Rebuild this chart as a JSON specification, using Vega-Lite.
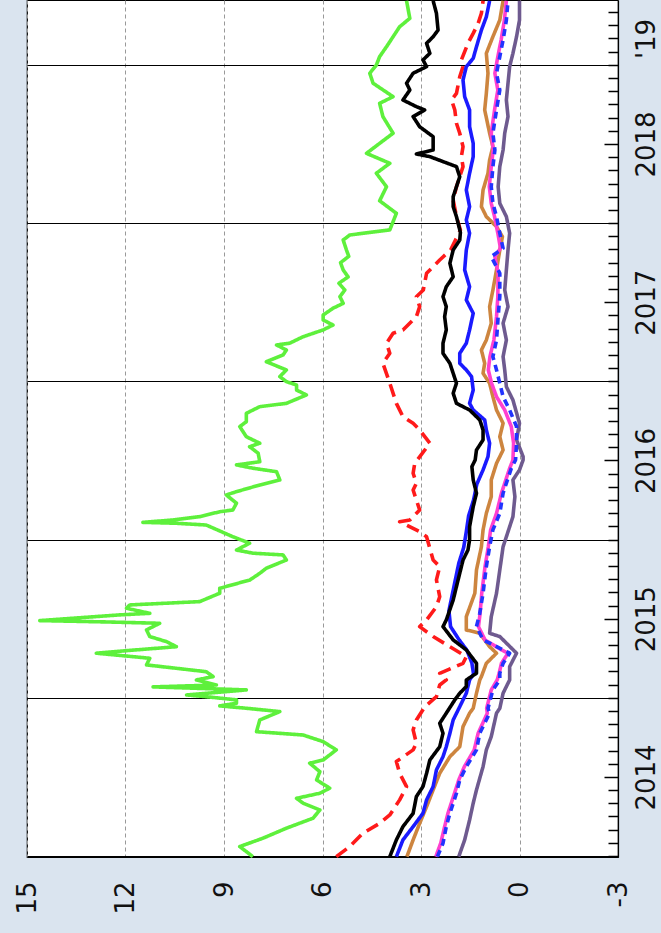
{
"$schema": "https://vega.github.io/schema/vega-lite/v6.json",
"width": 591, "height": 857,
"autosize": {"type": "none"},
"padding": {"left": 27, "top": 0, "right": 43, "bottom": 76},
"background": "#dae4ef",
"config": {"view": {"fill": "white", "stroke": "black", "strokeWidth": 1.2}, "font": "DejaVu Sans"},
"datasets": {"d": [
{"series":"A","time":2013.496,"value":8.12},{"series":"A","time":2013.560,"value":8.52},{"series":"A","time":2013.613,"value":7.81},{"series":"A","time":2013.676,"value":7.10},{"series":"A","time":2013.739,"value":6.29},{"series":"A","time":2013.791,"value":6.08},{"series":"A","time":2013.834,"value":6.59},{"series":"A","time":2013.865,"value":6.79},{"series":"A","time":2013.897,"value":6.08},{"series":"A","time":2013.929,"value":5.78},{"series":"A","time":2013.981,"value":6.18},{"series":"A","time":2014.033,"value":6.08},{"series":"A","time":2014.087,"value":6.39},{"series":"A","time":2014.107,"value":5.98},{"series":"A","time":2014.171,"value":5.58},{"series":"A","time":2014.223,"value":5.98},{"series":"A","time":2014.265,"value":6.59},{"series":"A","time":2014.286,"value":8.01},{"series":"A","time":2014.360,"value":7.91},{"series":"A","time":2014.413,"value":7.30},{"series":"A","time":2014.434,"value":8.32},{"series":"A","time":2014.449,"value":9.13},{"series":"A","time":2014.466,"value":8.62},{"series":"A","time":2014.487,"value":8.62},{"series":"A","time":2014.507,"value":9.54},{"series":"A","time":2014.518,"value":10.14},{"series":"A","time":2014.550,"value":8.32},{"series":"A","time":2014.569,"value":11.16},{"series":"A","time":2014.581,"value":9.23},{"series":"A","time":2014.613,"value":9.84},{"series":"A","time":2014.634,"value":9.33},{"series":"A","time":2014.665,"value":9.54},{"series":"A","time":2014.708,"value":11.36},{"series":"A","time":2014.750,"value":11.26},{"series":"A","time":2014.782,"value":12.89},{"series":"A","time":2014.803,"value":11.67},{"series":"A","time":2014.823,"value":10.45},{"series":"A","time":2014.855,"value":10.75},{"series":"A","time":2014.887,"value":11.26},{"series":"A","time":2014.929,"value":11.36},{"series":"A","time":2014.971,"value":10.96},{"series":"A","time":2014.980,"value":12.69},{"series":"A","time":2014.988,"value":14.61},{"series":"A","time":2015.024,"value":12.18},{"series":"A","time":2015.034,"value":11.26},{"series":"A","time":2015.066,"value":11.97},{"series":"A","time":2015.087,"value":11.87},{"series":"A","time":2015.108,"value":9.74},{"series":"A","time":2015.161,"value":9.13},{"series":"A","time":2015.192,"value":9.13},{"series":"A","time":2015.245,"value":8.21},{"series":"A","time":2015.287,"value":7.91},{"series":"A","time":2015.319,"value":7.71},{"series":"A","time":2015.371,"value":7.10},{"series":"A","time":2015.403,"value":7.20},{"series":"A","time":2015.414,"value":8.12},{"series":"A","time":2015.434,"value":8.62},{"series":"A","time":2015.477,"value":8.22},{"series":"A","time":2015.518,"value":8.73},{"series":"A","time":2015.592,"value":9.54},{"series":"A","time":2015.603,"value":10.45},{"series":"A","time":2015.609,"value":11.47},{"series":"A","time":2015.624,"value":10.55},{"series":"A","time":2015.645,"value":9.74},{"series":"A","time":2015.676,"value":9.13},{"series":"A","time":2015.687,"value":8.73},{"series":"A","time":2015.730,"value":8.62},{"series":"A","time":2015.782,"value":8.93},{"series":"A","time":2015.803,"value":8.62},{"series":"A","time":2015.845,"value":7.91},{"series":"A","time":2015.877,"value":7.30},{"series":"A","time":2015.929,"value":7.40},{"series":"A","time":2015.951,"value":8.12},{"series":"A","time":2015.972,"value":8.62},{"series":"A","time":2015.992,"value":7.91},{"series":"A","time":2016.046,"value":7.96},{"series":"A","time":2016.087,"value":8.22},{"series":"A","time":2016.109,"value":7.91},{"series":"A","time":2016.150,"value":8.32},{"series":"A","time":2016.214,"value":8.52},{"series":"A","time":2016.245,"value":8.32},{"series":"A","time":2016.298,"value":8.32},{"series":"A","time":2016.340,"value":7.91},{"series":"A","time":2016.361,"value":7.10},{"series":"A","time":2016.414,"value":6.49},{"series":"A","time":2016.445,"value":6.79},{"series":"A","time":2016.477,"value":6.79},{"series":"A","time":2016.498,"value":7.10},{"series":"A","time":2016.530,"value":7.30},{"series":"A","time":2016.572,"value":7.10},{"series":"A","time":2016.624,"value":7.71},{"series":"A","time":2016.667,"value":7.20},{"series":"A","time":2016.698,"value":7.10},{"series":"A","time":2016.730,"value":7.40},{"series":"A","time":2016.741,"value":7.00},{"series":"A","time":2016.782,"value":6.59},{"series":"A","time":2016.825,"value":5.98},{"series":"A","time":2016.856,"value":5.68},{"series":"A","time":2016.888,"value":5.98},{"series":"A","time":2016.919,"value":5.98},{"series":"A","time":2016.962,"value":5.68},{"series":"A","time":2016.993,"value":5.37},{"series":"A","time":2017.035,"value":5.47},{"series":"A","time":2017.077,"value":5.32},{"series":"A","time":2017.120,"value":5.50},{"series":"A","time":2017.160,"value":5.22},{"series":"A","time":2017.204,"value":5.37},{"series":"A","time":2017.250,"value":5.45},{"series":"A","time":2017.290,"value":5.20},{"series":"A","time":2017.330,"value":5.27},{"series":"A","time":2017.393,"value":5.37},{"series":"A","time":2017.425,"value":5.17},{"series":"A","time":2017.457,"value":3.95},{"series":"A","time":2017.562,"value":3.75},{"series":"A","time":2017.641,"value":4.26},{"series":"A","time":2017.730,"value":4.05},{"series":"A","time":2017.815,"value":4.36},{"series":"A","time":2017.878,"value":3.95},{"series":"A","time":2017.941,"value":4.66},{"series":"A","time":2018.004,"value":4.26},{"series":"A","time":2018.068,"value":3.85},{"series":"A","time":2018.173,"value":4.16},{"series":"A","time":2018.257,"value":4.26},{"series":"A","time":2018.299,"value":3.85},{"series":"A","time":2018.384,"value":4.46},{"series":"A","time":2018.447,"value":4.56},{"series":"A","time":2018.499,"value":4.36},{"series":"A","time":2018.552,"value":4.26},{"series":"A","time":2018.615,"value":4.05},{"series":"A","time":2018.678,"value":3.85},{"series":"A","time":2018.741,"value":3.65},{"series":"A","time":2018.794,"value":3.34},{"series":"A","time":2018.905,"value":3.44},

{"series":"B","time":2013.496,"value":5.58},{"series":"B","time":2013.560,"value":5.17},{"series":"B","time":2013.644,"value":4.77},{"series":"B","time":2013.707,"value":4.26},{"series":"B","time":2013.760,"value":3.95},{"series":"B","time":2013.855,"value":3.65},{"series":"B","time":2013.939,"value":3.44},{"series":"B","time":2014.023,"value":3.65},{"series":"B","time":2014.097,"value":3.75},{"series":"B","time":2014.171,"value":3.24},{"series":"B","time":2014.213,"value":3.14},{"series":"B","time":2014.297,"value":3.24},{"series":"B","time":2014.360,"value":3.14},{"series":"B","time":2014.444,"value":2.88},{"series":"B","time":2014.507,"value":2.53},{"series":"B","time":2014.581,"value":2.43},{"series":"B","time":2014.613,"value":2.23},{"series":"B","time":2014.655,"value":2.43},{"series":"B","time":2014.718,"value":1.72},{"series":"B","time":2014.760,"value":1.62},{"series":"B","time":2014.823,"value":2.12},{"series":"B","time":2014.887,"value":2.63},{"series":"B","time":2014.950,"value":3.04},{"series":"B","time":2014.992,"value":2.83},{"series":"B","time":2015.076,"value":2.53},{"series":"B","time":2015.139,"value":2.43},{"series":"B","time":2015.245,"value":2.53},{"series":"B","time":2015.329,"value":2.43},{"series":"B","time":2015.371,"value":2.63},{"series":"B","time":2015.518,"value":2.83},{"series":"B","time":2015.550,"value":3.04},{"series":"B","time":2015.613,"value":3.65},{"series":"B","time":2015.624,"value":3.34},{"series":"B","time":2015.687,"value":3.04},{"series":"B","time":2015.750,"value":3.14},{"series":"B","time":2015.813,"value":3.24},{"series":"B","time":2015.856,"value":3.14},{"series":"B","time":2015.919,"value":3.24},{"series":"B","time":2015.982,"value":3.19},{"series":"B","time":2016.109,"value":2.73},{"series":"B","time":2016.193,"value":3.04},{"series":"B","time":2016.235,"value":3.24},{"series":"B","time":2016.277,"value":3.55},{"series":"B","time":2016.361,"value":3.75},{"series":"B","time":2016.488,"value":3.95},{"series":"B","time":2016.614,"value":4.16},{"series":"B","time":2016.677,"value":3.95},{"series":"B","time":2016.741,"value":4.05},{"series":"B","time":2016.804,"value":3.85},{"series":"B","time":2016.825,"value":3.55},{"series":"B","time":2016.909,"value":3.14},{"series":"B","time":2016.972,"value":3.04},{"series":"B","time":2017.035,"value":3.14},{"series":"B","time":2017.077,"value":2.93},{"series":"B","time":2017.183,"value":2.83},{"series":"B","time":2017.267,"value":2.43},{"series":"B","time":2017.330,"value":2.10},{"series":"B","time":2017.393,"value":1.95},{"series":"B","time":2017.457,"value":1.80},{"series":"B","time":2017.541,"value":1.92},{"series":"B","time":2017.646,"value":2.02},{"series":"B","time":2017.730,"value":1.92},{"series":"B","time":2017.857,"value":1.72},{"series":"B","time":2017.920,"value":1.77},{"series":"B","time":2017.983,"value":1.72},{"series":"B","time":2018.068,"value":1.82},{"series":"B","time":2018.131,"value":1.92},{"series":"B","time":2018.215,"value":1.97},{"series":"B","time":2018.278,"value":2.07},{"series":"B","time":2018.320,"value":1.92},{"series":"B","time":2018.425,"value":1.82},{"series":"B","time":2018.489,"value":1.72},{"series":"B","time":2018.531,"value":1.77},{"series":"B","time":2018.636,"value":1.57},{"series":"B","time":2018.699,"value":1.41},{"series":"B","time":2018.762,"value":1.26},{"series":"B","time":2018.826,"value":1.16},{"series":"B","time":2018.905,"value":1.11},

{"series":"H","time":2013.496,"value":1.85},{"series":"H","time":2013.602,"value":1.67},{"series":"H","time":2013.728,"value":1.52},{"series":"H","time":2013.834,"value":1.41},{"series":"H","time":2013.918,"value":1.31},{"series":"H","time":2014.065,"value":1.11},{"series":"H","time":2014.171,"value":1.01},{"series":"H","time":2014.255,"value":0.86},{"series":"H","time":2014.403,"value":0.70},{"series":"H","time":2014.434,"value":0.60},{"series":"H","time":2014.529,"value":0.50},{"series":"H","time":2014.571,"value":0.40},{"series":"H","time":2014.613,"value":0.30},{"series":"H","time":2014.697,"value":0.30},{"series":"H","time":2014.782,"value":0.09},{"series":"H","time":2014.887,"value":0.60},{"series":"H","time":2014.908,"value":0.91},{"series":"H","time":2015.013,"value":0.86},{"series":"H","time":2015.161,"value":0.70},{"series":"H","time":2015.308,"value":0.60},{"series":"H","time":2015.455,"value":0.50},{"series":"H","time":2015.518,"value":0.40},{"series":"H","time":2015.645,"value":0.20},{"series":"H","time":2015.771,"value":0.14},{"series":"H","time":2015.877,"value":0.20},{"series":"H","time":2015.940,"value":0.00},{"series":"H","time":2016.003,"value":-0.11},{"series":"H","time":2016.024,"value":-0.11},{"series":"H","time":2016.130,"value":0.09},{"series":"H","time":2016.235,"value":0.00},{"series":"H","time":2016.382,"value":0.20},{"series":"H","time":2016.466,"value":0.40},{"series":"H","time":2016.572,"value":0.45},{"series":"H","time":2016.656,"value":0.50},{"series":"H","time":2016.761,"value":0.40},{"series":"H","time":2016.867,"value":0.50},{"series":"H","time":2016.972,"value":0.35},{"series":"H","time":2017.077,"value":0.45},{"series":"H","time":2017.204,"value":0.40},{"series":"H","time":2017.330,"value":0.35},{"series":"H","time":2017.436,"value":0.30},{"series":"H","time":2017.541,"value":0.40},{"series":"H","time":2017.625,"value":0.60},{"series":"H","time":2017.730,"value":0.65},{"series":"H","time":2017.857,"value":0.60},{"series":"H","time":2017.962,"value":0.50},{"series":"H","time":2018.068,"value":0.45},{"series":"H","time":2018.173,"value":0.35},{"series":"H","time":2018.278,"value":0.40},{"series":"H","time":2018.384,"value":0.35},{"series":"H","time":2018.489,"value":0.30},{"series":"H","time":2018.573,"value":0.20},{"series":"H","time":2018.678,"value":0.09},{"series":"H","time":2018.783,"value":0.00},{"series":"H","time":2018.905,"value":0.00},

{"series":"E","time":2013.496,"value":3.43},{"series":"E","time":2013.602,"value":3.24},{"series":"E","time":2013.707,"value":3.04},{"series":"E","time":2013.812,"value":2.83},{"series":"E","time":2013.918,"value":2.63},{"series":"E","time":2014.023,"value":2.43},{"series":"E","time":2014.128,"value":2.12},{"series":"E","time":2014.191,"value":1.82},{"series":"E","time":2014.318,"value":1.72},{"series":"E","time":2014.403,"value":1.52},{"series":"E","time":2014.434,"value":1.41},{"series":"E","time":2014.529,"value":1.31},{"series":"E","time":2014.613,"value":1.21},{"series":"E","time":2014.634,"value":1.16},{"series":"E","time":2014.718,"value":1.01},{"series":"E","time":2014.782,"value":0.70},{"series":"E","time":2014.823,"value":0.91},{"series":"E","time":2014.908,"value":1.21},{"series":"E","time":2014.929,"value":1.62},{"series":"E","time":2015.013,"value":1.62},{"series":"E","time":2015.161,"value":1.36},{"series":"E","time":2015.308,"value":1.31},{"series":"E","time":2015.455,"value":1.16},{"series":"E","time":2015.561,"value":1.11},{"series":"E","time":2015.666,"value":1.01},{"series":"E","time":2015.771,"value":0.86},{"series":"E","time":2015.877,"value":0.86},{"series":"E","time":2015.982,"value":0.70},{"series":"E","time":2016.066,"value":0.50},{"series":"E","time":2016.150,"value":0.60},{"series":"E","time":2016.235,"value":0.50},{"series":"E","time":2016.319,"value":0.70},{"series":"E","time":2016.403,"value":0.81},{"series":"E","time":2016.488,"value":0.91},{"series":"E","time":2016.551,"value":1.11},{"series":"E","time":2016.614,"value":1.06},{"series":"E","time":2016.698,"value":1.16},{"series":"E","time":2016.761,"value":1.01},{"series":"E","time":2016.867,"value":0.86},{"series":"E","time":2016.972,"value":0.91},{"series":"E","time":2017.077,"value":0.81},{"series":"E","time":2017.204,"value":0.70},{"series":"E","time":2017.330,"value":0.60},{"series":"E","time":2017.414,"value":0.52},{"series":"E","time":2017.478,"value":0.70},{"series":"E","time":2017.541,"value":1.01},{"series":"E","time":2017.604,"value":1.16},{"series":"E","time":2017.709,"value":1.11},{"series":"E","time":2017.815,"value":0.96},{"series":"E","time":2017.899,"value":0.91},{"series":"E","time":2017.983,"value":0.81},{"series":"E","time":2018.068,"value":0.91},{"series":"E","time":2018.215,"value":1.06},{"series":"E","time":2018.320,"value":1.01},{"series":"E","time":2018.447,"value":0.96},{"series":"E","time":2018.573,"value":1.01},{"series":"E","time":2018.678,"value":0.81},{"series":"E","time":2018.783,"value":0.60},{"series":"E","time":2018.905,"value":0.50},

{"series":"F","time":2013.496,"value":2.55},{"series":"F","time":2013.581,"value":2.40},{"series":"F","time":2013.686,"value":2.28},{"series":"F","time":2013.770,"value":2.18},{"series":"F","time":2013.897,"value":1.98},{"series":"F","time":2013.981,"value":1.85},{"series":"F","time":2014.065,"value":1.68},{"series":"F","time":2014.171,"value":1.38},{"series":"F","time":2014.276,"value":1.26},{"series":"F","time":2014.403,"value":0.98},{"series":"F","time":2014.434,"value":1.00},{"series":"F","time":2014.550,"value":0.86},{"series":"F","time":2014.613,"value":0.68},{"series":"F","time":2014.655,"value":0.62},{"series":"F","time":2014.718,"value":0.55},{"series":"F","time":2014.782,"value":0.35},{"series":"F","time":2014.803,"value":0.55},{"series":"F","time":2014.866,"value":1.05},{"series":"F","time":2014.950,"value":1.25},{"series":"F","time":2015.034,"value":1.20},{"series":"F","time":2015.161,"value":1.15},{"series":"F","time":2015.329,"value":1.05},{"series":"F","time":2015.455,"value":0.95},{"series":"F","time":2015.561,"value":0.88},{"series":"F","time":2015.666,"value":0.70},{"series":"F","time":2015.793,"value":0.55},{"series":"F","time":2015.888,"value":0.40},{"series":"F","time":2015.950,"value":0.30},{"series":"F","time":2016.003,"value":0.20},{"series":"F","time":2016.109,"value":0.18},{"series":"F","time":2016.214,"value":0.25},{"series":"F","time":2016.319,"value":0.45},{"series":"F","time":2016.403,"value":0.70},{"series":"F","time":2016.488,"value":0.85},{"series":"F","time":2016.572,"value":0.95},{"series":"F","time":2016.656,"value":0.90},{"series":"F","time":2016.761,"value":0.78},{"series":"F","time":2016.909,"value":0.70},{"series":"F","time":2017.035,"value":0.66},{"series":"F","time":2017.183,"value":0.65},{"series":"F","time":2017.288,"value":0.75},{"series":"F","time":2017.341,"value":0.58},{"series":"F","time":2017.436,"value":0.66},{"series":"F","time":2017.541,"value":0.76},{"series":"F","time":2017.625,"value":0.86},{"series":"F","time":2017.730,"value":0.92},{"series":"F","time":2017.857,"value":0.86},{"series":"F","time":2017.962,"value":0.80},{"series":"F","time":2018.068,"value":0.86},{"series":"F","time":2018.215,"value":0.76},{"series":"F","time":2018.341,"value":0.66},{"series":"F","time":2018.447,"value":0.75},{"series":"F","time":2018.552,"value":0.66},{"series":"F","time":2018.657,"value":0.56},{"series":"F","time":2018.783,"value":0.46},{"series":"F","time":2018.905,"value":0.40},

{"series":"G","time":2013.496,"value":2.50},{"series":"G","time":2013.581,"value":2.33},{"series":"G","time":2013.686,"value":2.23},{"series":"G","time":2013.770,"value":2.12},{"series":"G","time":2013.897,"value":1.92},{"series":"G","time":2013.981,"value":1.82},{"series":"G","time":2014.065,"value":1.62},{"series":"G","time":2014.171,"value":1.31},{"series":"G","time":2014.276,"value":1.21},{"series":"G","time":2014.403,"value":0.91},{"series":"G","time":2014.434,"value":0.96},{"series":"G","time":2014.550,"value":0.81},{"series":"G","time":2014.613,"value":0.60},{"series":"G","time":2014.655,"value":0.60},{"series":"G","time":2014.718,"value":0.50},{"series":"G","time":2014.782,"value":0.30},{"series":"G","time":2014.803,"value":0.50},{"series":"G","time":2014.866,"value":1.11},{"series":"G","time":2014.950,"value":1.31},{"series":"G","time":2015.034,"value":1.21},{"series":"G","time":2015.161,"value":1.11},{"series":"G","time":2015.329,"value":1.01},{"series":"G","time":2015.455,"value":0.91},{"series":"G","time":2015.561,"value":0.81},{"series":"G","time":2015.666,"value":0.60},{"series":"G","time":2015.793,"value":0.50},{"series":"G","time":2015.888,"value":0.35},{"series":"G","time":2015.950,"value":0.25},{"series":"G","time":2016.003,"value":0.12},{"series":"G","time":2016.109,"value":0.09},{"series":"G","time":2016.214,"value":0.09},{"series":"G","time":2016.319,"value":0.30},{"series":"G","time":2016.403,"value":0.50},{"series":"G","time":2016.488,"value":0.60},{"series":"G","time":2016.572,"value":0.70},{"series":"G","time":2016.656,"value":0.81},{"series":"G","time":2016.761,"value":0.70},{"series":"G","time":2016.909,"value":0.65},{"series":"G","time":2017.035,"value":0.60},{"series":"G","time":2017.183,"value":0.60},{"series":"G","time":2017.288,"value":0.86},{"series":"G","time":2017.341,"value":0.50},{"series":"G","time":2017.436,"value":0.60},{"series":"G","time":2017.541,"value":0.70},{"series":"G","time":2017.625,"value":0.81},{"series":"G","time":2017.730,"value":0.86},{"series":"G","time":2017.857,"value":0.81},{"series":"G","time":2017.962,"value":0.75},{"series":"G","time":2018.068,"value":0.81},{"series":"G","time":2018.215,"value":0.70},{"series":"G","time":2018.341,"value":0.60},{"series":"G","time":2018.447,"value":0.70},{"series":"G","time":2018.552,"value":0.60},{"series":"G","time":2018.657,"value":0.50},{"series":"G","time":2018.783,"value":0.40},{"series":"G","time":2018.905,"value":0.35},

{"series":"D","time":2013.496,"value":3.75},{"series":"D","time":2013.602,"value":3.55},{"series":"D","time":2013.686,"value":3.24},{"series":"D","time":2013.770,"value":2.94},{"series":"D","time":2013.855,"value":2.83},{"series":"D","time":2013.939,"value":2.63},{"series":"D","time":2014.044,"value":2.53},{"series":"D","time":2014.128,"value":2.33},{"series":"D","time":2014.191,"value":2.23},{"series":"D","time":2014.276,"value":2.12},{"series":"D","time":2014.360,"value":2.02},{"series":"D","time":2014.444,"value":1.82},{"series":"D","time":2014.529,"value":1.62},{"series":"D","time":2014.613,"value":1.52},{"series":"D","time":2014.650,"value":1.40},{"series":"D","time":2014.720,"value":1.45},{"series":"D","time":2014.800,"value":1.60},{"series":"D","time":2014.870,"value":1.85},{"series":"D","time":2014.950,"value":2.10},{"series":"D","time":2015.050,"value":2.15},{"series":"D","time":2015.150,"value":2.05},{"series":"D","time":2015.250,"value":1.95},{"series":"D","time":2015.350,"value":1.85},{"series":"D","time":2015.450,"value":1.70},{"series":"D","time":2015.550,"value":1.62},{"series":"D","time":2015.650,"value":1.55},{"series":"D","time":2015.750,"value":1.40},{"series":"D","time":2015.850,"value":1.30},{"series":"D","time":2015.940,"value":1.11},{"series":"D","time":2016.024,"value":0.96},{"series":"D","time":2016.109,"value":0.91},{"series":"D","time":2016.193,"value":1.01},{"series":"D","time":2016.256,"value":1.06},{"series":"D","time":2016.319,"value":1.41},{"series":"D","time":2016.361,"value":1.52},{"series":"D","time":2016.445,"value":1.41},{"series":"D","time":2016.530,"value":1.46},{"series":"D","time":2016.572,"value":1.62},{"series":"D","time":2016.614,"value":1.82},{"series":"D","time":2016.677,"value":1.82},{"series":"D","time":2016.741,"value":1.62},{"series":"D","time":2016.825,"value":1.52},{"series":"D","time":2016.930,"value":1.41},{"series":"D","time":2017.014,"value":1.62},{"series":"D","time":2017.098,"value":1.52},{"series":"D","time":2017.204,"value":1.67},{"series":"D","time":2017.330,"value":1.62},{"series":"D","time":2017.436,"value":1.52},{"series":"D","time":2017.520,"value":1.62},{"series":"D","time":2017.604,"value":1.52},{"series":"D","time":2017.709,"value":1.62},{"series":"D","time":2017.815,"value":1.52},{"series":"D","time":2017.920,"value":1.41},{"series":"D","time":2018.004,"value":1.41},{"series":"D","time":2018.109,"value":1.52},{"series":"D","time":2018.215,"value":1.52},{"series":"D","time":2018.299,"value":1.67},{"series":"D","time":2018.404,"value":1.72},{"series":"D","time":2018.489,"value":1.62},{"series":"D","time":2018.541,"value":1.41},{"series":"D","time":2018.615,"value":1.31},{"series":"D","time":2018.720,"value":1.16},{"series":"D","time":2018.804,"value":1.01},{"series":"D","time":2018.905,"value":0.91},

{"series":"C","time":2013.496,"value":3.95},{"series":"C","time":2013.602,"value":3.75},{"series":"C","time":2013.686,"value":3.55},{"series":"C","time":2013.770,"value":3.24},{"series":"C","time":2013.876,"value":3.14},{"series":"C","time":2013.939,"value":2.94},{"series":"C","time":2014.023,"value":2.83},{"series":"C","time":2014.107,"value":2.73},{"series":"C","time":2014.191,"value":2.43},{"series":"C","time":2014.276,"value":2.33},{"series":"C","time":2014.339,"value":2.43},{"series":"C","time":2014.403,"value":2.23},{"series":"C","time":2014.487,"value":1.97},{"series":"C","time":2014.529,"value":1.82},{"series":"C","time":2014.571,"value":1.62},{"series":"C","time":2014.613,"value":1.62},{"series":"C","time":2014.655,"value":1.31},{"series":"C","time":2014.718,"value":1.31},{"series":"C","time":2014.803,"value":1.62},{"series":"C","time":2014.866,"value":2.02},{"series":"C","time":2014.950,"value":2.33},{"series":"C","time":2014.992,"value":2.23},{"series":"C","time":2015.118,"value":2.02},{"series":"C","time":2015.203,"value":1.92},{"series":"C","time":2015.287,"value":1.82},{"series":"C","time":2015.371,"value":1.72},{"series":"C","time":2015.434,"value":1.57},{"series":"C","time":2015.498,"value":1.52},{"series":"C","time":2015.582,"value":1.52},{"series":"C","time":2015.708,"value":1.41},{"series":"C","time":2015.793,"value":1.31},{"series":"C","time":2015.877,"value":1.41},{"series":"C","time":2015.961,"value":1.45},{"series":"C","time":2016.003,"value":1.35},{"series":"C","time":2016.066,"value":1.31},{"series":"C","time":2016.130,"value":1.11},{"series":"C","time":2016.193,"value":1.11},{"series":"C","time":2016.256,"value":1.21},{"series":"C","time":2016.319,"value":1.52},{"series":"C","time":2016.361,"value":1.92},{"series":"C","time":2016.425,"value":2.02},{"series":"C","time":2016.488,"value":1.92},{"series":"C","time":2016.551,"value":2.02},{"series":"C","time":2016.614,"value":2.12},{"series":"C","time":2016.677,"value":2.33},{"series":"C","time":2016.741,"value":2.33},{"series":"C","time":2016.825,"value":2.23},{"series":"C","time":2016.909,"value":2.28},{"series":"C","time":2016.972,"value":2.23},{"series":"C","time":2017.035,"value":2.33},{"series":"C","time":2017.098,"value":2.23},{"series":"C","time":2017.161,"value":2.02},{"series":"C","time":2017.246,"value":2.12},{"series":"C","time":2017.330,"value":2.02},{"series":"C","time":2017.393,"value":1.82},{"series":"C","time":2017.441,"value":1.80},{"series":"C","time":2017.541,"value":1.92},{"series":"C","time":2017.604,"value":2.02},{"series":"C","time":2017.667,"value":2.02},{"series":"C","time":2017.730,"value":1.92},{"series":"C","time":2017.793,"value":1.82},{"series":"C","time":2017.857,"value":1.92},{"series":"C","time":2017.920,"value":2.73},{"series":"C","time":2017.937,"value":3.14},{"series":"C","time":2017.962,"value":2.63},{"series":"C","time":2018.046,"value":2.63},{"series":"C","time":2018.109,"value":3.04},{"series":"C","time":2018.173,"value":3.24},{"series":"C","time":2018.215,"value":2.89},{"series":"C","time":2018.236,"value":3.14},{"series":"C","time":2018.278,"value":3.55},{"series":"C","time":2018.341,"value":3.34},{"series":"C","time":2018.384,"value":3.44},{"series":"C","time":2018.447,"value":3.24},{"series":"C","time":2018.489,"value":2.83},{"series":"C","time":2018.531,"value":2.94},{"series":"C","time":2018.573,"value":2.73},{"series":"C","time":2018.636,"value":2.83},{"series":"C","time":2018.678,"value":2.63},{"series":"C","time":2018.720,"value":2.48},{"series":"C","time":2018.826,"value":2.53},{"series":"C","time":2018.905,"value":2.63}
]},
"data": {"name": "d"},
"mark": {"type": "line", "strokeWidth": 3.6, "strokeJoin": "round"},
"encoding": {
  "x": {"field": "value", "type": "quantitative",
    "scale": {"domain": [-3, 15], "reverse": true, "nice": false, "zero": false},
    "axis": {"orient": "bottom", "values": [-3, 0, 3, 6, 9, 12, 15], "title": null,
      "labelExpr": "toString(datum.value)",
      "labelAngle": 270, "labelAlign": "right", "labelBaseline": "middle", "labelPadding": 24,
      "labelFontSize": 26, "labelColor": "#111", "labelFont": "DejaVu Sans", "labelFlush": false, "labelOverlap": false,
      "ticks": false, "domainColor": "black", "domainWidth": 1.2,
      "grid": true, "gridColor": "#999", "gridDash": [4, 3], "gridWidth": 1}},
  "y": {"field": "time", "type": "quantitative",
    "scale": {"domain": [2013.494, 2018.91], "nice": false, "zero": false},
    "axis": {"orient": "right", "title": null,
      "values": [2013.5,2013.5833,2013.6667,2013.75,2013.8333,2013.9167,
        2014,2014.0833,2014.1667,2014.25,2014.3333,2014.4167,2014.5,2014.5833,2014.6667,2014.75,2014.8333,2014.9167,
        2015,2015.0833,2015.1667,2015.25,2015.3333,2015.4167,2015.5,2015.5833,2015.6667,2015.75,2015.8333,2015.9167,
        2016,2016.0833,2016.1667,2016.25,2016.3333,2016.4167,2016.5,2016.5833,2016.6667,2016.75,2016.8333,2016.9167,
        2017,2017.0833,2017.1667,2017.25,2017.3333,2017.4167,2017.5,2017.5833,2017.6667,2017.75,2017.8333,2017.9167,
        2018,2018.0833,2018.1667,2018.25,2018.3333,2018.4167,2018.5,2018.5833,2018.6667,2018.75,2018.8333],
      "labelExpr": "abs(datum.value - round(datum.value)) < 0.01 ? toString(round(datum.value)) : (abs(datum.value - 2018.6667) < 0.01 ? \"'19\" : '')",
      "labelAngle": 270, "labelAlign": "center", "labelBaseline": "top",
      "labelPadding": {"condition": {"test": "abs(datum.value - round(datum.value)) < 0.01", "value": 29}, "value": 25},
      "labelFontSize": 26, "labelColor": "#111", "labelFont": "DejaVu Sans", "labelFlush": false, "labelOverlap": false, "labelBound": false,
      "tickSize": {"condition": {"test": "abs(datum.value - round(datum.value)) < 0.01", "value": -14}, "value": -10},
      "tickColor": "black", "tickWidth": 1.5,
      "domainColor": "black", "domainWidth": 1.2,
      "grid": true, "gridColor": "black", "gridWidth": 1.2,
      "gridOpacity": {"condition": {"test": "abs(datum.value - floor(datum.value) - 0.5) < 0.01", "value": 1}, "value": 0}}},
  "color": {"field": "series", "type": "nominal", "legend": null,
    "scale": {"domain": ["A","B","H","E","F","G","D","C"],
      "range": ["#5ef03c","#ff1a1a","#6e5a8f","#cd853f","#ff40d0","#2233ff","#1a1aff","#000000"]}},
  "strokeDash": {"field": "series", "type": "nominal", "legend": null,
    "scale": {"domain": ["A","B","H","E","F","G","D","C"],
      "range": [[1,0],[13,7],[1,0],[1,0],[1,0],[7,5],[1,0],[1,0]]}},
  "order": {"field": "time", "type": "quantitative"}
}
}
